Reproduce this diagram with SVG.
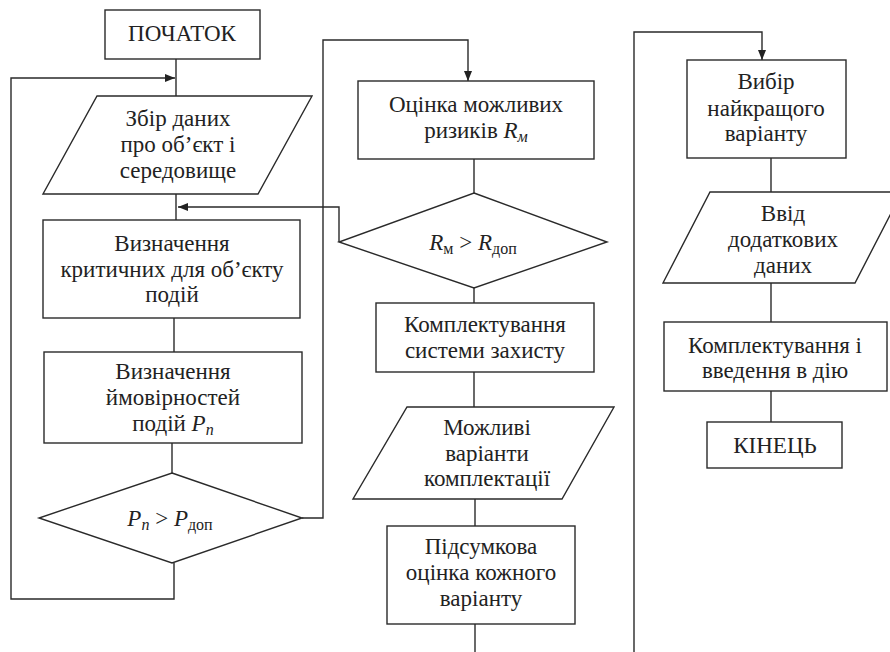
<svg xmlns="http://www.w3.org/2000/svg" width="890" height="652" viewBox="0 0 890 652">
<defs>
<marker id="ah" markerWidth="10" markerHeight="8" refX="10" refY="4" orient="auto" markerUnits="userSpaceOnUse">
<path d="M0,0 L10,4 L0,8 Z" fill="#222"/>
</marker>
<style>
.s{fill:#fff;stroke:#2a2a2a;stroke-width:1.4}
.c{fill:none;stroke:#2a2a2a;stroke-width:1.4}
.t text{font-size:23px;fill:#222;text-anchor:middle}
.i{font-style:italic}
.sub{font-size:16px}
.big{font-size:25px}
</style>
</defs>
<rect width="890" height="652" fill="#fff"/>
<g id="connectors">
<line class="c" x1="176" y1="59" x2="176" y2="96"/>
<polyline class="c" points="174,563 174,599 11,599 11,78 175,78" marker-end="url(#ah)"/>
<line class="c" x1="176" y1="194" x2="176" y2="220"/>
<polyline class="c" points="339,242 339,207 178,207" marker-end="url(#ah)"/>
<line class="c" x1="174" y1="318" x2="174" y2="352"/>
<line class="c" x1="172" y1="443" x2="172" y2="473"/>
<polyline class="c" points="302,518 323,518 323,40 468,40 468,81" marker-end="url(#ah)"/>
<line class="c" x1="474" y1="159" x2="474" y2="193"/>
<line class="c" x1="474" y1="288" x2="474" y2="303"/>
<line class="c" x1="474" y1="372" x2="474" y2="407"/>
<line class="c" x1="475" y1="499" x2="475" y2="526"/>
<line class="c" x1="475" y1="624" x2="475" y2="652"/>
<polyline class="c" points="634,652 634,32 762,32 762,60" marker-end="url(#ah)"/>
<line class="c" x1="771" y1="158" x2="771" y2="192"/>
<line class="c" x1="771" y1="283" x2="771" y2="322"/>
<line class="c" x1="771" y1="391" x2="771" y2="422"/>
</g>
<g class="t" font-family="Liberation Serif, Tinos, DejaVu Serif, serif">
<g id="start">
<rect class="s" x="105" y="10" width="155" height="49"/>
<text class="big" x="182" y="41">ПОЧАТОК</text>
</g>
<g id="collect">
<polygon class="s" points="97,96 312,96 258,194 43,194"/>
<text x="178" y="126">Збір даних</text>
<text x="178" y="152">про об’єкт і</text>
<text x="178" y="178">середовище</text>
</g>
<g id="critical">
<rect class="s" x="43" y="220" width="257" height="98"/>
<text x="172" y="251">Визначення</text>
<text x="172" y="277">критичних для об’єкту</text>
<text x="172" y="302">подій</text>
</g>
<g id="prob">
<rect class="s" x="44" y="352" width="258" height="91"/>
<text x="173" y="379">Визначення</text>
<text x="173" y="405">ймовірностей</text>
<text x="173" y="431">подій <tspan class="i">P</tspan><tspan class="i sub" dy="4">n</tspan></text>
</g>
<g id="dec1">
<polygon class="s" points="172,473 302,518 172,563 39,518"/>
<text x="170" y="526"><tspan class="i">P</tspan><tspan class="i sub" dy="4">n</tspan><tspan dy="-4"> &gt; </tspan><tspan class="i">P</tspan><tspan class="sub" dy="4">доп</tspan></text>
</g>
<g id="risk">
<rect class="s" x="358" y="81" width="236" height="78"/>
<text x="476" y="112">Оцінка можливих</text>
<text x="476" y="138">ризиків <tspan class="i">R</tspan><tspan class="i sub" dy="4">м</tspan></text>
</g>
<g id="dec2">
<polygon class="s" points="474,193 607,242 474,288 339,242"/>
<text x="473" y="250"><tspan class="i">R</tspan><tspan class="sub" dy="4">м</tspan><tspan dy="-4"> &gt; </tspan><tspan class="i">R</tspan><tspan class="sub" dy="4">доп</tspan></text>
</g>
<g id="protect">
<rect class="s" x="376" y="303" width="218" height="69"/>
<text x="485" y="332">Комплектування</text>
<text x="485" y="358">системи захисту</text>
</g>
<g id="variants">
<polygon class="s" points="407,407 614,407 562,499 353,499"/>
<text x="487" y="435">Можливі</text>
<text x="487" y="461">варіанти</text>
<text x="487" y="486">комплектації</text>
</g>
<g id="summary">
<rect class="s" x="387" y="526" width="188" height="98"/>
<text x="481" y="554">Підсумкова</text>
<text x="481" y="580">оцінка кожного</text>
<text x="481" y="606">варіанту</text>
</g>
<g id="best">
<rect class="s" x="687" y="60" width="159" height="98"/>
<text x="766" y="89">Вибір</text>
<text x="766" y="116">найкращого</text>
<text x="766" y="141">варіанту</text>
</g>
<g id="input">
<polygon class="s" points="710,192 902,192 855,283 663,283"/>
<text x="783" y="221">Ввід</text>
<text x="783" y="247">додаткових</text>
<text x="783" y="273">даних</text>
</g>
<g id="deploy">
<rect class="s" x="664" y="322" width="223" height="69"/>
<text x="775" y="353">Комплектування і</text>
<text x="775" y="378">введення в дію</text>
</g>
<g id="end">
<rect class="s" x="707" y="422" width="135" height="46"/>
<text class="big" x="775" y="453">КІНЕЦЬ</text>
</g>
</g>
</svg>
